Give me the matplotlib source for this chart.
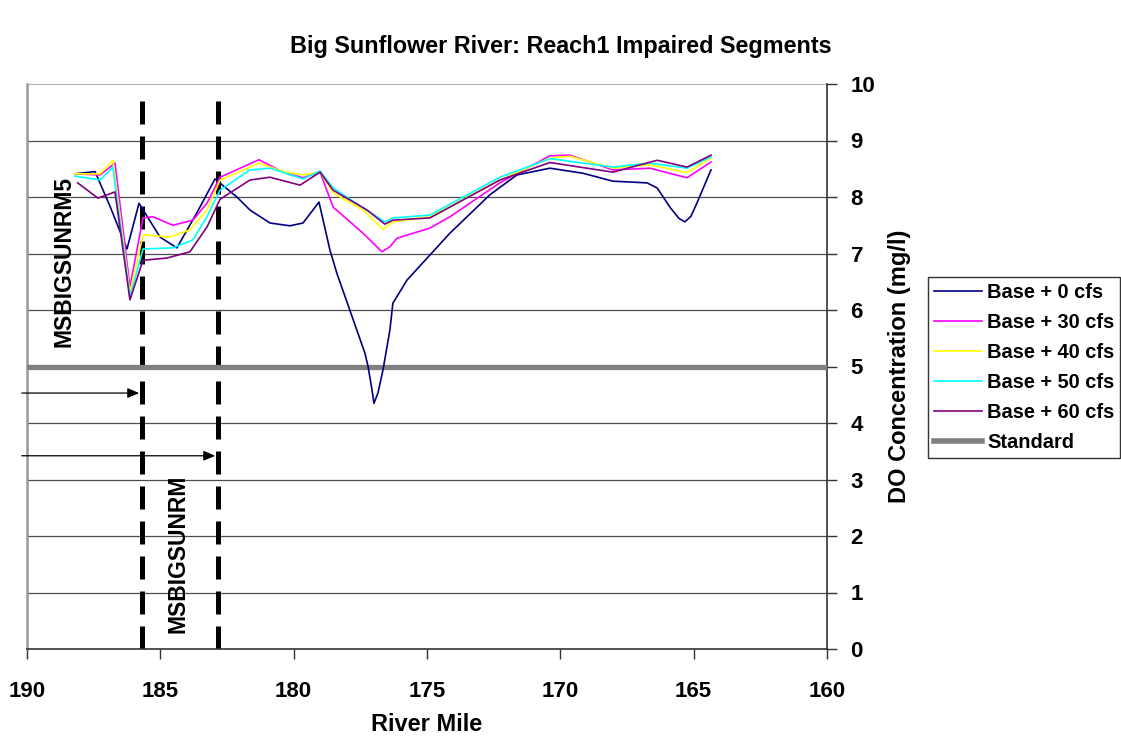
import matplotlib
matplotlib.use("Agg")
import matplotlib.pyplot as plt
from matplotlib.lines import Line2D

plt.rcParams['font.family'] = ['Liberation Sans', 'DejaVu Sans']
plt.rcParams['font.weight'] = 'bold'

# river mile / DO values
mile_0 = [188.2, 187.45, 186.89, 186.25, 185.8, 185.01, 184.38, 183.63, 182.95, 182.13,
          181.64, 180.89, 180.14, 179.65, 179.05, 178.64, 178.38, 177.33, 177.21, 177.06,
          176.99, 176.84, 176.65, 176.39, 176.28, 175.75, 174.14, 172.64, 171.63, 170.39,
          169.15, 168.03, 166.75, 166.37, 165.89, 165.55, 165.33, 165.1, 164.88, 164.35]
do_0 = [8.41, 8.45, 7.84, 7.08, 7.89, 7.29, 7.10, 7.72, 8.32, 8.00,
        7.77, 7.54, 7.49, 7.54, 7.91, 7.06, 6.65, 5.24, 5.00, 4.58,
        4.35, 4.53, 4.94, 5.65, 6.12, 6.53, 7.36, 8.04, 8.39, 8.51,
        8.42, 8.28, 8.25, 8.16, 7.82, 7.62, 7.56, 7.66, 7.89, 8.48]

mile_30 = [188.2, 187.26, 186.7, 186.14, 185.65, 185.28, 184.53, 183.78, 183.25, 182.76,
           181.3, 180.4, 179.65, 179.01, 178.52, 177.4, 176.69, 176.39, 176.13, 174.89,
           174.14, 172.27, 170.39, 169.64, 168.03, 166.64, 165.25, 164.35]
do_30 = [8.41, 8.39, 8.60, 6.41, 7.63, 7.65, 7.50, 7.59, 7.89, 8.35,
         8.66, 8.44, 8.34, 8.44, 7.82, 7.36, 7.03, 7.12, 7.27, 7.45,
         7.65, 8.25, 8.73, 8.74, 8.48, 8.51, 8.34, 8.62]

mile_40 = [188.2, 187.26, 186.78, 186.14, 185.65, 184.64, 183.89, 183.25, 182.76, 181.3,
           180.4, 179.65, 179.01, 178.52, 177.4, 176.65, 176.28, 174.89, 172.27, 170.39,
           169.64, 168.03, 166.64, 165.25, 164.35]
do_40 = [8.41, 8.41, 8.65, 6.30, 7.33, 7.29, 7.42, 7.77, 8.30, 8.60,
         8.45, 8.39, 8.44, 8.07, 7.77, 7.43, 7.56, 7.65, 8.30, 8.69,
         8.72, 8.51, 8.57, 8.43, 8.69]

mile_50 = [188.2, 187.26, 186.78, 186.14, 185.65, 184.53, 183.78, 183.25, 182.76, 181.64,
           180.89, 179.65, 179.01, 178.52, 177.4, 176.58, 176.28, 174.89, 172.27, 170.39,
           168.03, 166.64, 165.25, 164.35]
do_50 = [8.37, 8.30, 8.53, 6.23, 7.08, 7.10, 7.24, 7.65, 8.12, 8.48,
         8.51, 8.32, 8.46, 8.16, 7.81, 7.56, 7.63, 7.68, 8.35, 8.68,
         8.53, 8.60, 8.51, 8.71]

mile_60 = [188.1, 187.34, 186.7, 186.14, 185.65, 184.75, 183.89, 183.25, 182.76, 181.64,
           180.89, 179.76, 179.01, 178.52, 177.25, 176.58, 176.28, 174.89, 172.27, 170.39,
           168.03, 166.37, 165.25, 164.35]
do_60 = [8.25, 7.98, 8.09, 6.18, 6.88, 6.92, 7.03, 7.47, 7.96, 8.30,
         8.35, 8.21, 8.44, 8.12, 7.77, 7.52, 7.59, 7.63, 8.30, 8.61,
         8.44, 8.65, 8.53, 8.74]

standard = 5
segment_bounds = [185.69, 182.84]
labels = ['Base + 0 cfs', 'Base + 30 cfs', 'Base + 40 cfs', 'Base + 50 cfs', 'Base + 60 cfs']
colors = ['#000080', '#FF00FF', '#FFFF00', '#00FFFF', '#800080']

fig = plt.figure(figsize=(11.21, 7.38), dpi=100)
ax = fig.add_axes([27 / 1121, 1 - 649 / 738, 800 / 1121, 565 / 738])

# grid lines
for v in range(1, 10):
    ax.axhline(v, color='#4d4d4d', lw=0.9, zorder=1)
ax.axhline(10, color='#a0a0a0', lw=1.2, zorder=1)

# segment boundaries
for m in segment_bounds:
    ax.plot([m, m], [0, 9.85], color='black', lw=3.6, ls=(0, (4.6, 2.4)), zorder=2)

ax.axhline(standard, color='#808080', lw=3.8, zorder=3)

series = [(mile_0, do_0), (mile_30, do_30), (mile_40, do_40), (mile_50, do_50), (mile_60, do_60)]
for (x, y), c, lab in zip(series, colors, labels):
    ax.plot(x, y, color=c, lw=1.2, zorder=4, label=lab, solid_joinstyle='round')

# arrows marking segments
ax.annotate('', xy=(segment_bounds[0], 4.53), xytext=(190.3, 4.53),
            arrowprops=dict(arrowstyle='-|>,head_length=0.7,head_width=0.3', color='black', lw=0.9),
            annotation_clip=False)
ax.annotate('', xy=(segment_bounds[1], 3.42), xytext=(190.3, 3.42),
            arrowprops=dict(arrowstyle='-|>,head_length=0.7,head_width=0.3', color='black', lw=0.9),
            annotation_clip=False)

ax.text(188.61, 6.85, 'MSBIGSUNRM5', rotation=90, ha='center', va='center', fontsize=16.5, fontweight='bold')
ax.text(184.34, 1.68, 'MSBIGSUNRM', rotation=90, ha='center', va='center', fontsize=16.5, fontweight='bold')

ax.set_xlim(190, 160)
ax.set_ylim(0, 10)
ax.set_xticks(range(190, 159, -5))
ax.set_yticks(range(0, 11))
ax.yaxis.tick_right()
ax.yaxis.set_label_position('right')
ax.tick_params(axis='both', labelsize=16, length=7, width=1, color='#333333')
ax.tick_params(axis='x', pad=16)
ax.tick_params(axis='y', pad=10)
for lab in ax.get_xticklabels() + ax.get_yticklabels():
    lab.set_fontweight('bold')

ax.spines['top'].set_visible(False)
ax.spines['left'].set_color('#999999')
ax.spines['left'].set_linewidth(1.8)
ax.spines['right'].set_color('#333333')
ax.spines['right'].set_linewidth(1.2)
ax.spines['bottom'].set_color('#333333')
ax.spines['bottom'].set_linewidth(1.2)

ax.set_xlabel('River Mile', fontsize=17, fontweight='bold', labelpad=8)
ax.set_ylabel('DO Concentration (mg/l)', fontsize=17, fontweight='bold', labelpad=9)

fig.text(0.5, 1 - 47 / 738, 'Big Sunflower River: Reach1 Impaired Segments',
         ha='center', va='center', fontsize=16.8, fontweight='bold')

handles = [Line2D([], [], color=c, lw=1.2) for c in colors]
handles.append(Line2D([], [], color='#808080', lw=4))
leg = fig.legend(handles, labels + ['Standard'], loc='upper left',
                 bbox_to_anchor=(928 / 1121, 1 - 277 / 738),
                 prop={'weight': 'bold', 'size': 14.4}, frameon=True, fancybox=False,
                 edgecolor='black', handlelength=2.4, handletextpad=0.25,
                 labelspacing=0.55, borderpad=0.3, borderaxespad=0)
leg.get_frame().set_linewidth(1.0)

fig.savefig('out.png', dpi=100)
